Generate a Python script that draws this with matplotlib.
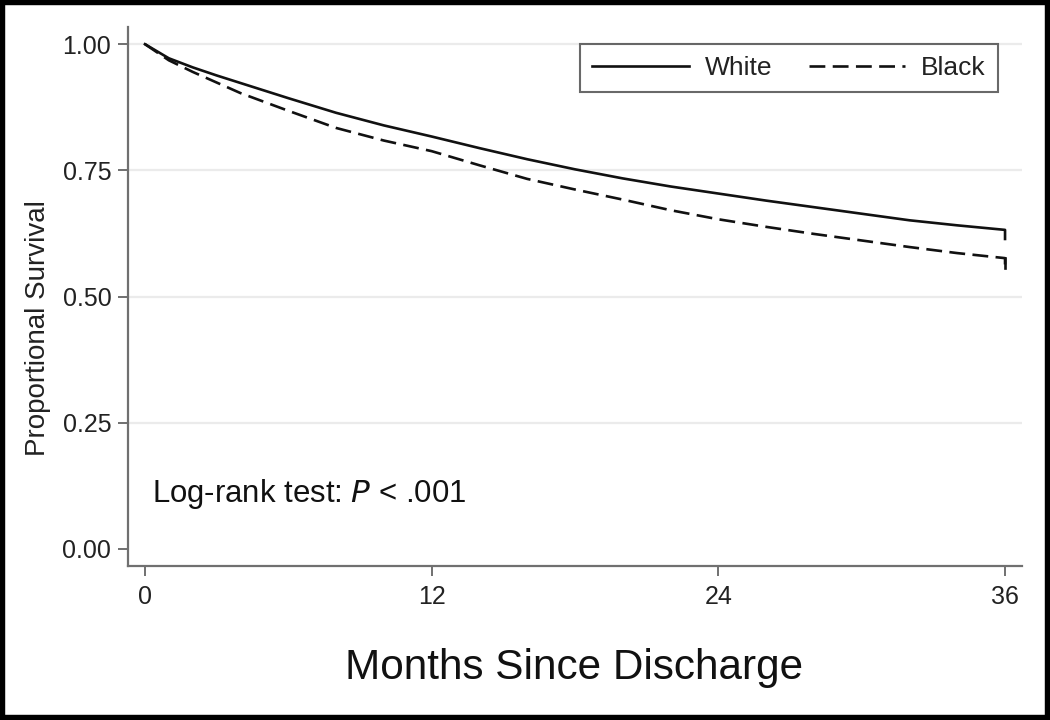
import matplotlib
matplotlib.use("Agg")
import matplotlib.pyplot as plt
from matplotlib.patches import Rectangle

plt.rcParams['font.family'] = ['Liberation Sans', 'DejaVu Sans']

# Data
months = [0, 1, 2, 3, 4, 6, 8, 10, 12, 14, 16, 18, 20, 22, 24, 26, 28, 30, 32, 34, 36, 36]
white = [1.000, 0.972, 0.954, 0.938, 0.923, 0.893, 0.864, 0.839, 0.817, 0.794, 0.772, 0.752, 0.734, 0.718, 0.704,
         0.690, 0.677, 0.664, 0.651, 0.641, 0.632, 0.614]
black = [1.000, 0.968, 0.945, 0.924, 0.903, 0.868, 0.834, 0.809, 0.788, 0.760, 0.733, 0.712, 0.692, 0.671, 0.653,
         0.638, 0.624, 0.611, 0.598, 0.586, 0.576, 0.557]
series_labels = ["White", "Black"]
xticks = [0, 12, 24, 36]
yticks = [0.00, 0.25, 0.50, 0.75, 1.00]
ytick_labels = ["0.00", "0.25", "0.50", "0.75", "1.00"]
grid_y = [0.25, 0.50, 0.75, 1.00]

W, H = 1050, 720
fig = plt.figure(figsize=(W / 100, H / 100), dpi=100)
fig.patch.set_facecolor("white")

ax = fig.add_axes([128 / W, 1 - 566 / H, (1022 - 128) / W, (566 - 27) / H])
ax.set_xlim(-0.71, 36.71)
ax.set_ylim(-0.034, 1.034)

for g in grid_y:
    ax.axhline(g, color="#ebebeb", lw=1.6, zorder=0)

ax.plot(months, white, color="#111111", lw=1.9, solid_joinstyle="round", label=series_labels[0])
ax.plot(months, black, color="#111111", lw=1.9, ls=(0, (6, 2.8)), label=series_labels[1])
# final censoring drop of the dashed curve drawn as a short solid tick
ax.plot(months[-2:], black[-2:], color="#111111", lw=1.9)

for s in ["top", "right"]:
    ax.spines[s].set_visible(False)
for s in ["left", "bottom"]:
    ax.spines[s].set_color("#707070")
    ax.spines[s].set_linewidth(1.6)

ax.set_xticks(xticks)
ax.set_xticklabels([str(t) for t in xticks])
ax.set_yticks(yticks)
ax.set_yticklabels(ytick_labels)
ax.tick_params(axis="both", direction="out", length=7, width=1.4, color="#707070",
               labelsize=18, labelcolor="#222222")
ax.tick_params(axis="x", pad=7)
ax.tick_params(axis="y", pad=5)

fig.text(38 / W, 1 - 328 / H, "Proportional Survival", rotation=90, ha="center", va="center",
         fontsize=20, color="#222222")
fig.text(574 / W, 1 - 668 / H, "Months Since Discharge", ha="center", va="center",
         fontsize=30.4, color="#111111")

ax.text(0.29, 0.109, r"Log-rank test: $\it{P}$ < .001", ha="left", va="center", fontsize=22.4,
        color="#111111")

leg = ax.legend(loc="upper right", bbox_to_anchor=(998 / W, 1 - 44 / H), bbox_transform=fig.transFigure,
                borderaxespad=0, ncol=2, fancybox=False, frameon=True, fontsize=19,
                handlelength=3.65, handletextpad=0.6, columnspacing=1.4, borderpad=0.46)
leg.get_frame().set_edgecolor("#444444")
leg.get_frame().set_linewidth(1.5)
for t in leg.get_texts():
    t.set_color("#222222")

fig.add_artist(Rectangle((0, 0), 1, 1, transform=fig.transFigure, fill=False, edgecolor="black",
                         lw=7.5, clip_on=False))

fig.savefig("out.png", dpi=100, facecolor="white")
